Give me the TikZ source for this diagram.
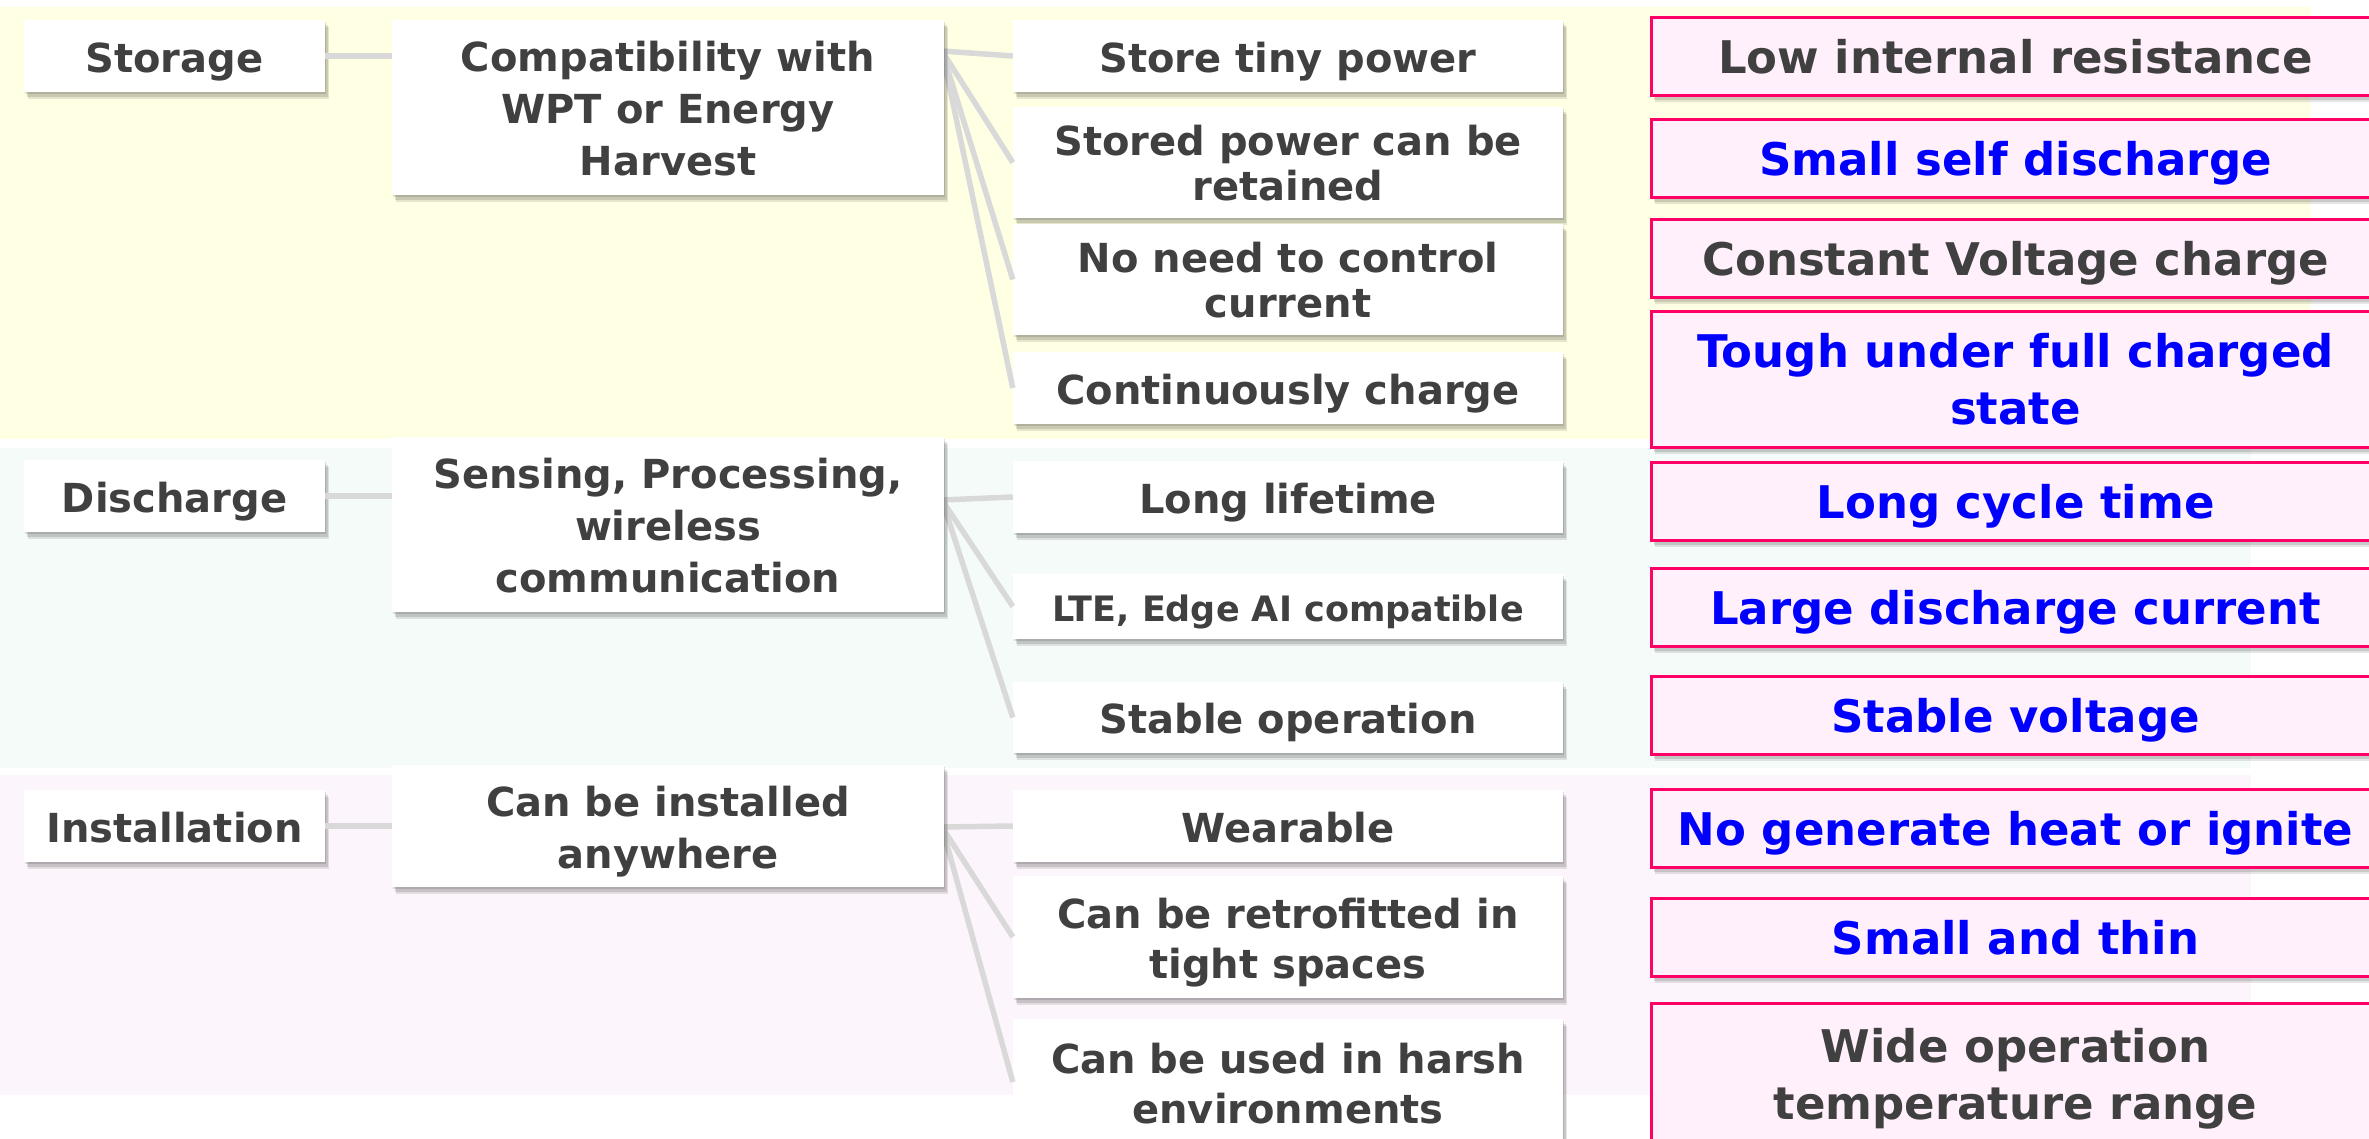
\documentclass[tikz,border=0pt]{standalone}
\usepackage{fontspec}
\setmainfont{DejaVu Sans}
\usetikzlibrary{shadows}

\definecolor{txtgray}{HTML}{404040}
\definecolor{linkgray}{HTML}{D9D9D9}
\definecolor{bandyellow}{HTML}{FFFFE3}
\definecolor{bandmint}{HTML}{F4FBF8}
\definecolor{bandpink}{HTML}{FDF5FC}
\definecolor{reqfill}{HTML}{FFF0FB}
\definecolor{reqline}{HTML}{FF0066}
\definecolor{reqtext}{HTML}{0000FF}

% centred lines of equal height, set a little low in the box
\newcommand{\boxtext}[1]{\raisebox{-6pt}[\height][\depth]{\begin{tabular}{@{}c@{}}#1\end{tabular}}}

\tikzset{
  softshadow/.style={
    general shadow={shadow xshift=1pt, shadow yshift=-2pt, fill=black, opacity=0.12},
    general shadow={shadow xshift=2.5pt, shadow yshift=-4.5pt, fill=black, opacity=0.12},
    general shadow={shadow xshift=4pt, shadow yshift=-7pt, fill=black, opacity=0.10}},
  itembox/.style={softshadow, fill=white, draw=none, text=txtgray,
    inner sep=0pt, font=\fontsize{40}{52}\selectfont\bfseries},
  catbox/.style={itembox, minimum width=301pt, minimum height=72pt},
  needbox/.style={itembox, minimum width=552pt},
  usebox/.style={itembox, minimum width=550pt},
  tight/.style={font=\fontsize{40}{45}\selectfont\bfseries},
  loose/.style={font=\fontsize{40}{50}\selectfont\bfseries},
  reqbox/.style={softshadow, fill=reqfill, draw=reqline, line width=3pt, text=txtgray,
    inner sep=0pt, minimum width=729pt,
    font=\fontsize{45}{57}\selectfont\bfseries},
  reqblue/.style={reqbox, text=reqtext},
  link/.style={draw=linkgray, line width=5.5pt},
}

\begin{document}
\begin{tikzpicture}[x=1pt, y=-1pt]
\useasboundingbox (0,0) rectangle (2369,1138);
\clip (0,0) rectangle (2369,1138);
\fill[white] (0,0) rectangle (2369,1138);

% group bands
\fill[bandyellow] (0,7) rectangle (2311,439);
\fill[bandmint] (0,448) rectangle (2251,768);
\fill[bandpink] (0,775) rectangle (2251,1095);

% fan-out points on the right side of the second column
\coordinate (fanS) at (942,51);
\coordinate (fanD) at (942,500);
\coordinate (fanI) at (942,827);

% first column: categories
\node[catbox] (storage) at (174.5,56) {\boxtext{Storage}};
\node[catbox] (discharge) at (174.5,496) {\boxtext{Discharge}};
\node[catbox] (install) at (174.5,826) {\boxtext{Installation}};

% third column: usage requirements
\node[usebox, minimum height=72pt] (tiny) at (1288,56) {\boxtext{Store tiny power}};
\node[usebox, tight, minimum height=111pt] (retain) at (1288,162.5) {\boxtext{Stored power can be\\retained}};
\node[usebox, tight, minimum height=111pt] (nocontrol) at (1288,279.5) {\boxtext{No need to control\\current}};
\node[usebox, minimum height=72pt] (cont) at (1288,388) {\boxtext{Continuously charge}};
\node[usebox, minimum height=72pt] (life) at (1288,497) {\boxtext{Long lifetime}};
\node[usebox, minimum height=65pt, font=\fontsize{35}{45}\selectfont\bfseries] (lte) at (1288,606.5) {\boxtext{LTE, Edge AI compatible}};
\node[usebox, minimum height=71pt] (stableop) at (1288,717.5) {\boxtext{Stable operation}};
\node[usebox, minimum height=72pt] (wear) at (1288,826) {\boxtext{Wearable}};
\node[usebox, loose, minimum height=122pt] (retro) at (1288,937) {\boxtext{Can be retrofitted in\\tight spaces}};
\node[usebox, loose, minimum height=126pt] (harsh) at (1288,1082) {\boxtext{Can be used in harsh\\environments}};

% connectors
\draw[link] (storage.east) -- (storage.east -| 400,0);
\draw[link] (discharge.east) -- (discharge.east -| 400,0);
\draw[link] (install.east) -- (install.east -| 400,0);
\foreach \t in {tiny,retain,nocontrol,cont} \draw[link] (fanS) -- (\t.west);
\foreach \t in {life,lte,stableop} \draw[link] (fanD) -- (\t.west);
\foreach \t in {wear,retro,harsh} \draw[link] (fanI) -- (\t.west);

% second column: needs
\node[needbox, minimum height=175pt] (compat) at (668,107.5) {\boxtext{Compatibility with\\WPT or Energy\\Harvest}};
\node[needbox, minimum height=175pt] (sensing) at (668,524.5) {\boxtext{Sensing, Processing,\\wireless\\communication}};
\node[needbox, minimum height=122pt] (anywhere) at (668,826) {\boxtext{Can be installed\\anywhere}};

% fourth column: battery requirements
\node[reqbox, minimum height=78pt] (lowres) at (2015.5,56) {\boxtext{Low internal resistance}};
\node[reqblue, minimum height=78pt] (selfdis) at (2015.5,158) {\boxtext{Small self discharge}};
\node[reqbox, minimum height=78pt] (cv) at (2015.5,258) {\boxtext{Constant Voltage charge}};
\node[reqblue, minimum height=136pt] (tough) at (2015.5,379) {\boxtext{Tough under full charged\\state}};
\node[reqblue, minimum height=78pt] (cycle) at (2015.5,501) {\boxtext{Long cycle time}};
\node[reqblue, minimum height=78pt] (largedis) at (2015.5,607) {\boxtext{Large discharge current}};
\node[reqblue, minimum height=78pt] (stablev) at (2015.5,715) {\boxtext{Stable voltage}};
\node[reqblue, minimum height=78pt] (noheat) at (2015.5,828) {\boxtext{No generate heat or ignite}};
\node[reqblue, minimum height=78pt] (thin) at (2015.5,937) {\boxtext{Small and thin}};
\node[reqbox, minimum height=142pt] (wide) at (2015.5,1074) {\boxtext{Wide operation\\temperature range}};
\end{tikzpicture}
\end{document}
